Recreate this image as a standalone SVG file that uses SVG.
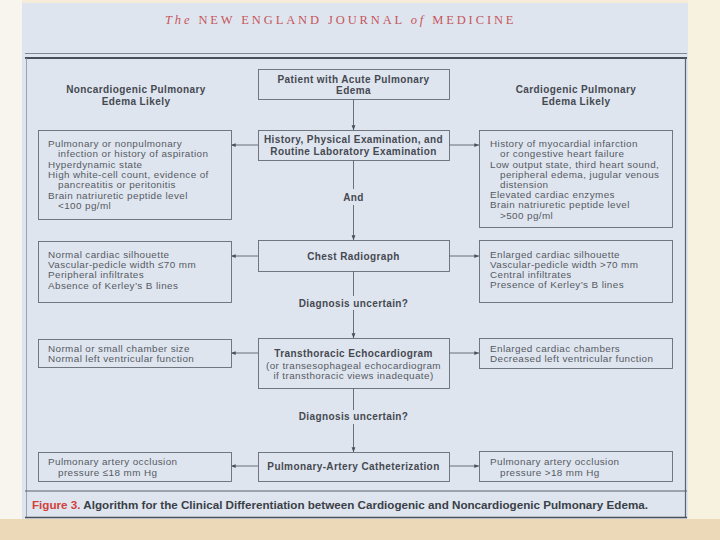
<svg xmlns="http://www.w3.org/2000/svg" width="720" height="540" viewBox="0 0 720 540">
<style>
.box{fill:none;stroke:#666b76;stroke-width:0.9}
.t{font-family:"Liberation Sans",Arial,sans-serif;font-size:9.9px;letter-spacing:0.4px;fill:#555a64}
.b{font-family:"Liberation Sans",Arial,sans-serif;font-size:10px;letter-spacing:0.4px;font-weight:bold;fill:#454952}
.c{text-anchor:middle}
.ln{stroke:#5c616b;stroke-width:0.9;fill:none}
</style>
<defs>
<marker id="ah" viewBox="0 0 8 8" refX="7.5" refY="4" markerWidth="5" markerHeight="5" orient="auto" markerUnits="userSpaceOnUse">
<path d="M0,1 L8,4 L0,7 z" fill="#4a4f58"/>
</marker>
</defs>
<!-- background -->
<rect x="0" y="0" width="720" height="540" fill="#f4ecd8"/>
<rect x="0" y="0" width="22" height="540" fill="#f8f5ee"/>
<rect x="688" y="0" width="32" height="540" fill="#f7f2df"/>
<rect x="0" y="519" width="720" height="21" fill="#ecd9b8"/>
<rect x="22" y="3" width="666" height="516" fill="#dfe5ee"/>
<text x="340" y="24" text-anchor="middle" textLength="350" lengthAdjust="spacing" font-family="Liberation Serif,serif" font-size="12.5px" fill="#c5565c" letter-spacing="1.5"><tspan font-style="italic">The</tspan> NEW ENGLAND JOURNAL <tspan font-style="italic">of</tspan> MEDICINE</text>
<line x1="25" y1="53.5" x2="687" y2="53.5" stroke="#6a707a" stroke-width="0.8"/>
<line x1="25" y1="58" x2="687" y2="58" stroke="#4a505a" stroke-width="2"/>
<line x1="26.5" y1="58" x2="26.5" y2="518" stroke="#8a909a" stroke-width="0.8"/>
<line x1="685.5" y1="58" x2="685.5" y2="518" stroke="#5c626c" stroke-width="1.2"/>
<line x1="25" y1="491" x2="687" y2="491" stroke="#5c626c" stroke-width="1.2"/>
<line x1="25" y1="517.5" x2="687" y2="517.5" stroke="#4a505a" stroke-width="1.6"/>
<text x="32" y="509" font-family="Liberation Sans,Arial,sans-serif" font-size="10.6px" font-weight="bold" fill="#3a3f48" textLength="616" lengthAdjust="spacingAndGlyphs"><tspan fill="#d2403a">Figure 3.</tspan> Algorithm for the Clinical Differentiation between Cardiogenic and Noncardiogenic Pulmonary Edema.</text>

<!-- connectors -->
<g id="connectors">
<line class="ln" x1="353.5" y1="99" x2="353.5" y2="130" marker-end="url(#ah)"/>
<line class="ln" x1="353.5" y1="160" x2="353.5" y2="189"/>
<line class="ln" x1="353.5" y1="205" x2="353.5" y2="240" marker-end="url(#ah)"/>
<line class="ln" x1="353.5" y1="271" x2="353.5" y2="296"/>
<line class="ln" x1="353.5" y1="310" x2="353.5" y2="338" marker-end="url(#ah)"/>
<line class="ln" x1="353.5" y1="388" x2="353.5" y2="410"/>
<line class="ln" x1="353.5" y1="424" x2="353.5" y2="452" marker-end="url(#ah)"/>
<line class="ln" x1="258" y1="145" x2="231" y2="145" marker-end="url(#ah)"/>
<line class="ln" x1="449" y1="145" x2="479" y2="145" marker-end="url(#ah)"/>
<line class="ln" x1="258" y1="256" x2="231" y2="256" marker-end="url(#ah)"/>
<line class="ln" x1="449" y1="256" x2="479" y2="256" marker-end="url(#ah)"/>
<line class="ln" x1="258" y1="353" x2="231" y2="353" marker-end="url(#ah)"/>
<line class="ln" x1="449" y1="353" x2="479" y2="353" marker-end="url(#ah)"/>
<line class="ln" x1="258" y1="466" x2="231" y2="466" marker-end="url(#ah)"/>
<line class="ln" x1="449" y1="466" x2="479" y2="466" marker-end="url(#ah)"/>
<text class="b c" x="353.5" y="200.5">And</text>
<text class="b c" x="353.5" y="306.5">Diagnosis uncertain?</text>
<text class="b c" x="353.5" y="420">Diagnosis uncertain?</text>
</g>

<!-- headers -->
<g id="hdr-left">
<text class="b c" x="136" y="92.5">Noncardiogenic Pulmonary</text>
<text class="b c" x="136" y="104.5">Edema Likely</text>
</g>
<g id="hdr-right">
<text class="b c" x="576" y="92.5">Cardiogenic Pulmonary</text>
<text class="b c" x="576" y="104.5">Edema Likely</text>
</g>

<!-- center column -->
<g id="patient">
<rect class="box" x="258.5" y="69.5" width="191" height="30"/>
<text class="b c" x="353.5" y="82.5">Patient with Acute Pulmonary</text>
<text class="b c" x="353.5" y="93.5">Edema</text>
</g>
<g id="history">
<rect class="box" x="258.5" y="130.5" width="191" height="30"/>
<text class="b c" x="353.5" y="142.5">History, Physical Examination, and</text>
<text class="b c" x="353.5" y="154.5">Routine Laboratory Examination</text>
</g>
<g id="chest">
<rect class="box" x="258.5" y="240.5" width="191" height="31"/>
<text class="b c" x="353.5" y="259.5">Chest Radiograph</text>
</g>
<g id="echo">
<rect class="box" x="258.5" y="338.5" width="191" height="50"/>
<text class="b c" x="353.5" y="356.5">Transthoracic Echocardiogram</text>
<text class="t c" x="353.5" y="369">(or transesophageal echocardiogram</text>
<text class="t c" x="353.5" y="379">if transthoracic views inadequate)</text>
</g>
<g id="cath">
<rect class="box" x="258.5" y="452.5" width="191" height="29"/>
<text class="b c" x="353.5" y="470">Pulmonary-Artery Catheterization</text>
</g>

<!-- left column -->
<g id="left1">
<rect class="box" x="38.5" y="130.5" width="193" height="89"/>
<text class="t" x="48" y="146.5">Pulmonary or nonpulmonary</text>
<text class="t" x="58" y="157">infection or history of aspiration</text>
<text class="t" x="48" y="167.5">Hyperdynamic state</text>
<text class="t" x="48" y="177.5">High white-cell count, evidence of</text>
<text class="t" x="58" y="188">pancreatitis or peritonitis</text>
<text class="t" x="48" y="198.5">Brain natriuretic peptide level</text>
<text class="t" x="58" y="208.5">&lt;100 pg/ml</text>
</g>
<g id="left2">
<rect class="box" x="38.5" y="241.5" width="193" height="61"/>
<text class="t" x="48" y="257.5">Normal cardiac silhouette</text>
<text class="t" x="48" y="268">Vascular-pedicle width ≤70 mm</text>
<text class="t" x="48" y="278">Peripheral infiltrates</text>
<text class="t" x="48" y="288.5">Absence of Kerley’s B lines</text>
</g>
<g id="left3">
<rect class="box" x="38.5" y="339.5" width="193" height="28"/>
<text class="t" x="48" y="351.5">Normal or small chamber size</text>
<text class="t" x="48" y="361.5">Normal left ventricular function</text>
</g>
<g id="left4">
<rect class="box" x="38.5" y="452.5" width="193" height="29"/>
<text class="t" x="48" y="465">Pulmonary artery occlusion</text>
<text class="t" x="58" y="475.5">pressure ≤18 mm Hg</text>
</g>

<!-- right column -->
<g id="right1">
<rect class="box" x="479.5" y="130.5" width="193" height="97"/>
<text class="t" x="490" y="146.5">History of myocardial infarction</text>
<text class="t" x="500" y="157">or congestive heart failure</text>
<text class="t" x="490" y="167.5">Low output state, third heart sound,</text>
<text class="t" x="500" y="177.5">peripheral edema, jugular venous</text>
<text class="t" x="500" y="187.5">distension</text>
<text class="t" x="490" y="197.5">Elevated cardiac enzymes</text>
<text class="t" x="490" y="208">Brain natriuretic peptide level</text>
<text class="t" x="500" y="218.5">&gt;500 pg/ml</text>
</g>
<g id="right2">
<rect class="box" x="479.5" y="240.5" width="193" height="62"/>
<text class="t" x="490" y="257.5">Enlarged cardiac silhouette</text>
<text class="t" x="490" y="267.5">Vascular-pedicle width &gt;70 mm</text>
<text class="t" x="490" y="277.5">Central infiltrates</text>
<text class="t" x="490" y="288">Presence of Kerley’s B lines</text>
</g>
<g id="right3">
<rect class="box" x="479.5" y="338.5" width="193" height="30"/>
<text class="t" x="490" y="351.5">Enlarged cardiac chambers</text>
<text class="t" x="490" y="361.5">Decreased left ventricular function</text>
</g>
<g id="right4">
<rect class="box" x="479.5" y="451.5" width="193" height="30"/>
<text class="t" x="490" y="464.5">Pulmonary artery occlusion</text>
<text class="t" x="500" y="475.5">pressure &gt;18 mm Hg</text>
</g>
</svg>
